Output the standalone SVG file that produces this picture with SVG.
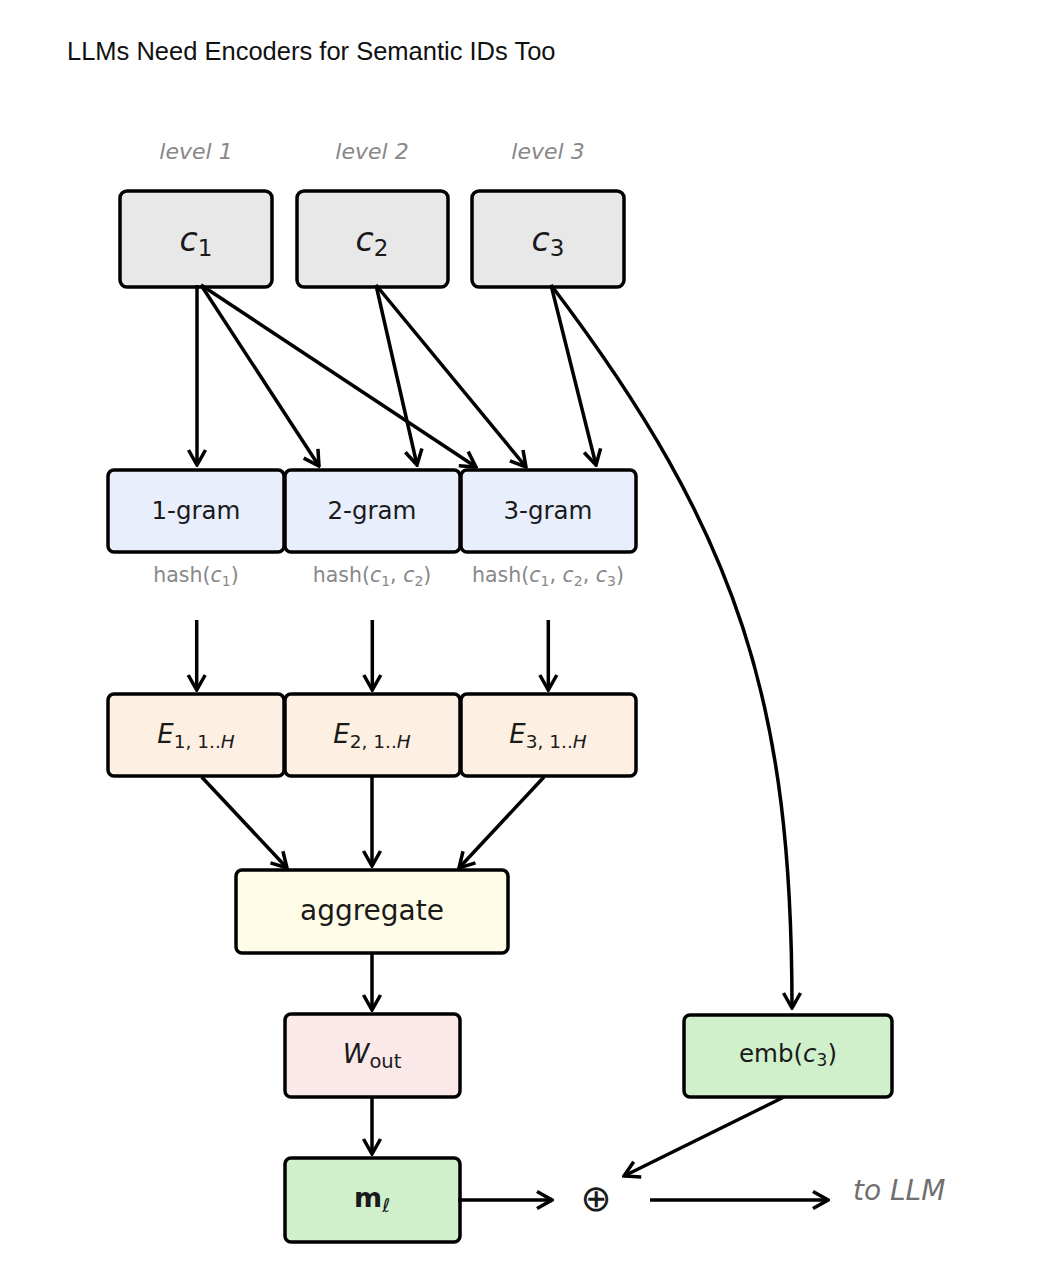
<svg xmlns="http://www.w3.org/2000/svg" width="1052" height="1280" viewBox="0 0 1052 1280">
<style>
text { font-family: "DejaVu Sans", "Liberation Sans", sans-serif; fill: #1a1a1a; }
.title { font-family: "Liberation Sans", Arial, sans-serif; font-size: 25.5px; fill: #111; }
.lvl { font-size: 22px; font-style: italic; fill: #888; text-anchor: middle; }
.hash { font-size: 20.5px; fill: #888; text-anchor: middle; }
.lbl { font-size: 24.5px; text-anchor: middle; }
.big { font-size: 28px; text-anchor: middle; }
.it { font-style: italic; }
.box { stroke: #000; stroke-width: 3.5; }
.gray { fill: #e8e8e8; }
.blue { fill: #e8eefb; }
.tan { fill: #fdf0e2; }
.yel { fill: #fefce6; }
.pink { fill: #fbe8e8; }
.green { fill: #d0f0cc; }
.con line, .con path { stroke: #000; stroke-width: 3.5; fill: none; marker-end: url(#arr); }
</style>
<defs>
<marker id="arr" markerUnits="userSpaceOnUse" viewBox="-18 -11 20 22" refX="0" refY="0" markerWidth="20" markerHeight="22" orient="auto">
<path d="M-15,-8.5 L0,0 L-15,8.5" fill="none" stroke="#000" stroke-width="3.5" stroke-linejoin="miter"/>
</marker>
</defs>
<rect width="1052" height="1280" fill="#fff"/>
<text class="title" x="67" y="60">LLMs Need Encoders for Semantic IDs Too</text>

<g id="level-labels">
<text class="lvl" x="196" y="159">level 1</text>
<text class="lvl" x="372" y="159">level 2</text>
<text class="lvl" x="548" y="159">level 3</text>
</g>

<g id="c1"><rect class="box gray" x="120" y="191" width="152" height="96" rx="7"/>
<text class="big" x="196" y="251" style="font-size:33px"><tspan class="it">c</tspan><tspan dy="5" style="font-size:23px">1</tspan></text></g>
<g id="c2"><rect class="box gray" x="297" y="191" width="151" height="96" rx="7"/>
<text class="big" x="372" y="251" style="font-size:33px"><tspan class="it">c</tspan><tspan dy="5" style="font-size:23px">2</tspan></text></g>
<g id="c3"><rect class="box gray" x="472" y="191" width="152" height="96" rx="7"/>
<text class="big" x="548" y="251" style="font-size:33px"><tspan class="it">c</tspan><tspan dy="5" style="font-size:23px">3</tspan></text></g>

<g id="gram1"><rect class="box blue" x="108" y="470" width="176" height="82" rx="6"/>
<text class="lbl" x="196" y="519">1-gram</text></g>
<g id="gram2"><rect class="box blue" x="285" y="470" width="175" height="82" rx="6"/>
<text class="lbl" x="372" y="519">2-gram</text></g>
<g id="gram3"><rect class="box blue" x="461" y="470" width="175" height="82" rx="6"/>
<text class="lbl" x="548" y="519">3-gram</text></g>

<g id="hash-labels">
<text class="hash" x="196" y="582">hash(<tspan class="it">c</tspan><tspan dy="4" style="font-size:14px">1</tspan><tspan dy="-4">)</tspan></text>
<text class="hash" x="372" y="582">hash(<tspan class="it">c</tspan><tspan dy="4" style="font-size:14px">1</tspan><tspan dy="-4">, </tspan><tspan class="it">c</tspan><tspan dy="4" style="font-size:14px">2</tspan><tspan dy="-4">)</tspan></text>
<text class="hash" x="548" y="582">hash(<tspan class="it">c</tspan><tspan dy="4" style="font-size:14px">1</tspan><tspan dy="-4">, </tspan><tspan class="it">c</tspan><tspan dy="4" style="font-size:14px">2</tspan><tspan dy="-4">, </tspan><tspan class="it">c</tspan><tspan dy="4" style="font-size:14px">3</tspan><tspan dy="-4">)</tspan></text>
</g>

<g id="E1"><rect class="box tan" x="108" y="694" width="176" height="82" rx="6"/>
<text class="lbl" x="196" y="743" style="font-size:26px"><tspan class="it">E</tspan><tspan dy="5" style="font-size:18.5px">1, 1..<tspan class="it">H</tspan></tspan></text></g>
<g id="E2"><rect class="box tan" x="285" y="694" width="175" height="82" rx="6"/>
<text class="lbl" x="372" y="743" style="font-size:26px"><tspan class="it">E</tspan><tspan dy="5" style="font-size:18.5px">2, 1..<tspan class="it">H</tspan></tspan></text></g>
<g id="E3"><rect class="box tan" x="461" y="694" width="175" height="82" rx="6"/>
<text class="lbl" x="548" y="743" style="font-size:26px"><tspan class="it">E</tspan><tspan dy="5" style="font-size:18.5px">3, 1..<tspan class="it">H</tspan></tspan></text></g>

<g id="aggregate"><rect class="box yel" x="236" y="870" width="272" height="83" rx="6"/>
<text class="big" x="372" y="920">aggregate</text></g>

<g id="Wout"><rect class="box pink" x="285" y="1014" width="175" height="83" rx="6"/>
<text class="lbl" x="372" y="1063" style="font-size:27px"><tspan class="it">W</tspan><tspan dy="5" style="font-size:19.5px">out</tspan></text></g>

<g id="m"><rect class="box green" x="285" y="1158" width="175" height="84" rx="6"/>
<text class="lbl" x="372" y="1207" style="font-size:27px"><tspan font-weight="bold">m</tspan><tspan dy="5" class="it" style="font-size:19px">ℓ</tspan></text></g>

<g id="emb"><rect class="box green" x="684" y="1015" width="208" height="82" rx="6"/>
<text class="lbl" x="788" y="1062">emb(<tspan class="it">c</tspan><tspan dy="4" style="font-size:17px">3</tspan><tspan dy="-4">)</tspan></text></g>

<g id="plus"><text x="596" y="1211" style="font-size:37px; text-anchor:middle">⊕</text></g>
<g id="to-llm"><text x="853" y="1200" style="font-size:28px; font-style:italic; fill:#707070">to LLM</text></g>

<g class="con" id="connectors">
<line x1="197" y1="285" x2="197" y2="465"/>
<line x1="201" y1="285" x2="319" y2="466"/>
<line x1="201" y1="285" x2="476" y2="467"/>
<line x1="376" y1="285" x2="417" y2="465"/>
<line x1="376" y1="285" x2="526" y2="467"/>
<line x1="551" y1="285" x2="596" y2="465"/>
<path d="M551,285 C741,535 792,707 792,1008"/>
<line x1="196.7" y1="620" x2="196.7" y2="690"/>
<line x1="372.3" y1="620" x2="372.3" y2="690"/>
<line x1="548.3" y1="620" x2="548.3" y2="690"/>
<line x1="201.7" y1="777" x2="287" y2="868"/>
<line x1="372" y1="777" x2="372" y2="866"/>
<line x1="544" y1="777" x2="459" y2="868"/>
<line x1="372" y1="954" x2="372" y2="1010"/>
<line x1="372" y1="1098" x2="372" y2="1154"/>
<line x1="458" y1="1200" x2="552" y2="1200"/>
<line x1="650" y1="1200" x2="828" y2="1200"/>
<line x1="784" y1="1097" x2="624" y2="1176"/>
</g>
</svg>
